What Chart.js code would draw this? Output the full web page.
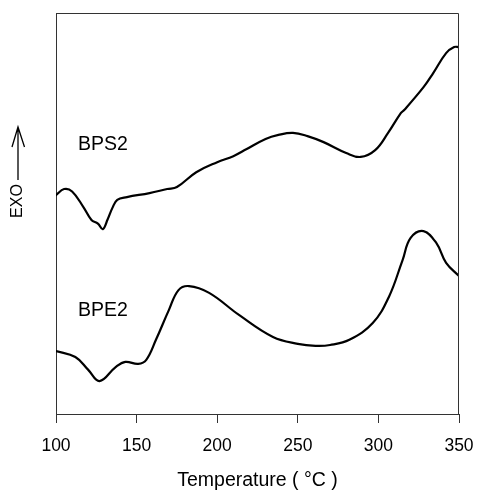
<!DOCTYPE html>
<html><head><meta charset="utf-8">
<script src="https://cdn.jsdelivr.net/npm/chart.js@4/dist/chart.umd.min.js"></script>
<style>html,body{margin:0;padding:0;background:#fff}</style>
</head><body>
<canvas id="c" width="478" height="492"></canvas>
<script>
// Temperature (°C) and heat-flow signal (arbitrary units, exo up)
const bps2Temp = [100,105,110,117,122,126,129,132,135,138,144,158,169,175,187,200,210,218,230,238,247,256,266,280,289,298,306,314,316,328,334,342,347,350];
const bps2Val  = [5.46,5.61,5.55,5.16,4.84,4.75,4.61,4.85,5.14,5.34,5.41,5.51,5.61,5.66,6.03,6.28,6.43,6.60,6.86,6.96,7.01,6.93,6.78,6.51,6.41,6.58,7.01,7.51,7.58,8.15,8.50,9.00,9.15,9.15];
const bpe2Temp = [100,112,120,127,137,143,151,156,162,170,176,182.5,195,213.5,234.6,250,261,270,282,296.5,306.5,315,320,328,336,342,350];
const bpe2Val  = [1.57,1.42,1.10,0.82,1.17,1.30,1.25,1.35,1.85,2.59,3.09,3.19,3.02,2.47,1.92,1.75,1.70,1.72,1.85,2.27,2.92,3.84,4.39,4.56,4.26,3.77,3.44];
const xTickValues = [100,150,200,250,300,350];
const seriesNames = ['BPS2','BPE2'];
const yAxisLabel = 'EXO';
const xAxisLabel = 'Temperature ( °C )';

const toPts = (xs, ys) => xs.map((x, i) => ({x, y: ys[i]}));
const FONT = 'Arial, "Liberation Sans", Helvetica, sans-serif';

const decor = {
  id: 'decor',
  afterDraw(chart) {
    const {ctx, chartArea: a, scales} = chart;
    ctx.save();
    ctx.strokeStyle = '#333';
    ctx.lineWidth = 1;
    ctx.beginPath();
    ctx.moveTo(a.left, a.top + 0.5);
    ctx.lineTo(a.right - 0.5, a.top + 0.5);
    ctx.lineTo(a.right - 0.5, a.bottom);
    ctx.stroke();
    ctx.fillStyle = '#000';
    ctx.font = '19.5px ' + FONT;
    ctx.textAlign = 'left';
    ctx.textBaseline = 'middle';
    ctx.fillText(seriesNames[0], scales.x.getPixelForValue(113.6), scales.y.getPixelForValue(6.71));
    ctx.fillText(seriesNames[1], scales.x.getPixelForValue(113.6), scales.y.getPixelForValue(2.59));
    ctx.save();
    ctx.translate(18, 201);
    ctx.rotate(-Math.PI / 2);
    ctx.font = '16px ' + FONT;
    ctx.textAlign = 'center';
    ctx.textBaseline = 'middle';
    ctx.fillText(yAxisLabel, 0, 0);
    ctx.restore();
    ctx.strokeStyle = '#000';
    ctx.lineWidth = 1.3;
    ctx.beginPath();
    ctx.moveTo(18, 180);
    ctx.lineTo(18, 127);
    ctx.moveTo(12, 147);
    ctx.lineTo(18, 127);
    ctx.lineTo(24.5, 147);
    ctx.stroke();
    ctx.restore();
  }
};

new Chart(document.getElementById('c'), {
  type: 'scatter',
  data: {
    datasets: [
      {label: seriesNames[0], data: toPts(bps2Temp, bps2Val)},
      {label: seriesNames[1], data: toPts(bpe2Temp, bpe2Val)}
    ].map(d => Object.assign(d, {
      showLine: true, borderColor: '#000', borderWidth: 2.2, pointRadius: 0,
      tension: 0.4, fill: false, borderJoinStyle: 'round', borderCapStyle: 'round'
    }))
  },
  options: {
    responsive: false, animation: false, devicePixelRatio: 1,
    layout: {padding: {left: 0, right: 19, top: 13, bottom: 0}},
    plugins: {legend: {display: false}, tooltip: {enabled: false}},
    scales: {
      x: {
        type: 'linear', min: 100, max: 350,
        afterBuildTicks: s => { s.ticks = xTickValues.map(v => ({value: v})); },
        afterFit: s => { s.height = 78; s.paddingLeft = 0; s.paddingRight = 0; },
        grid: {drawOnChartArea: false, drawTicks: true, tickLength: 9, color: '#333', tickWidth: 1},
        border: {display: true, color: '#333', width: 1},
        ticks: {color: '#000', font: {size: 17.5, family: FONT}, padding: 13, maxRotation: 0},
        title: {display: true, text: xAxisLabel, color: '#000', font: {size: 19.5, family: FONT}, padding: {top: 4, bottom: 0}}
      },
      y: {
        min: 0, max: 10,
        afterFit: s => { s.width = 56; s.paddingTop = 0; s.paddingBottom = 0; },
        grid: {display: false},
        border: {display: true, color: '#333', width: 1},
        ticks: {display: false}
      }
    }
  },
  plugins: [decor]
});
</script>
</body></html>
